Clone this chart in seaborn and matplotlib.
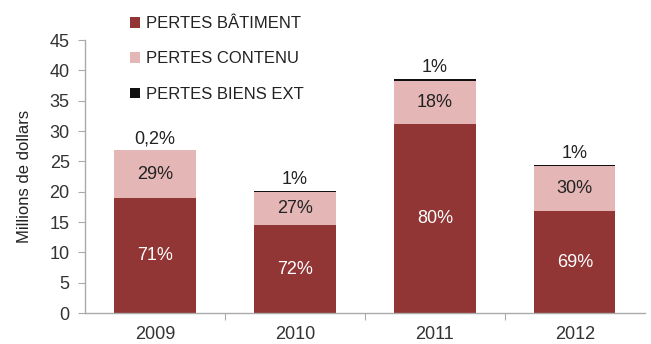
import matplotlib
matplotlib.use("Agg")
import matplotlib.pyplot as plt
from matplotlib.patches import Patch
import numpy as np
import pandas as pd
import seaborn as sns

# Loss amounts, millions of dollars
years = ["2009", "2010", "2011", "2012"]
batiment = [19.0, 14.5, 31.1, 16.8]
contenu = [7.8, 5.45, 7.1, 7.35]
biens_ext = [0.06, 0.2, 0.45, 0.25]

lbl_batiment = ["71%", "72%", "80%", "69%"]
lbl_contenu = ["29%", "27%", "18%", "30%"]
lbl_ext = ["0,2%", "1%", "1%", "1%"]

series_names = ["PERTES BÂTIMENT", "PERTES CONTENU", "PERTES BIENS EXT"]
colors = ["#923535", "#E5B6B6", "#111111"]

sns.set_theme(style="white")
plt.rcParams["font.family"] = ["Liberation Sans", "DejaVu Sans"]

df = pd.DataFrame({"annee": years, "bat": batiment, "cont": contenu, "ext": biens_ext})
bottom_cont = df["bat"].to_numpy()
bottom_ext = bottom_cont + df["cont"].to_numpy()
totals = bottom_ext + df["ext"].to_numpy()

fig = plt.figure(figsize=(6.51, 3.44), dpi=100)
ax = fig.add_axes([0.1306, 0.0901, 0.860, 0.7936])

bw = 0.58
sns.barplot(data=df, x="annee", y="bat", color=colors[0], width=bw, ax=ax,
            saturation=1, linewidth=0)
sns.barplot(data=df, x="annee", y="cont", color=colors[1], width=bw, ax=ax,
            saturation=1, linewidth=0, bottom=bottom_cont)
sns.barplot(data=df, x="annee", y="ext", color=colors[2], width=bw, ax=ax,
            saturation=1, linewidth=0, bottom=bottom_ext)

fs = 12
fs_val = 13
for i in range(len(years)):
    ax.text(i, batiment[i] / 2, lbl_batiment[i], ha="center", va="center",
            color="white", fontsize=fs_val)
    ax.text(i, bottom_cont[i] + contenu[i] / 2, lbl_contenu[i], ha="center",
            va="center", color="#222222", fontsize=fs_val)
    ax.text(i, totals[i] + 0.45, lbl_ext[i], ha="center", va="bottom",
            color="#222222", fontsize=fs_val)

ax.set_xlim(-0.5, 3.5)
ax.set_ylim(0, 45)
ax.set_yticks(np.arange(0, 46, 5))
ax.set_xlabel("")
ax.set_ylabel("Millions de dollars", fontsize=fs, color="#222222", labelpad=13)

sns.despine(ax=ax, top=True, right=True)
for s in ["left", "bottom"]:
    ax.spines[s].set_color("#AAAAAA")
    ax.spines[s].set_linewidth(1.0)

ax.tick_params(axis="y", which="major", left=True, length=5, width=0.8,
               color="#AAAAAA", labelsize=13, labelcolor="#333333", pad=6)
ax.tick_params(axis="x", which="major", bottom=False, labelsize=13,
               labelcolor="#333333", pad=3)
ax.set_xticks([0.5, 1.5, 2.5], minor=True)
ax.tick_params(axis="x", which="minor", bottom=True, length=5, width=0.8,
               color="#AAAAAA")

handles = [Patch(facecolor=c, edgecolor="none") for c in colors]
fig.legend(handles, series_names, loc="upper left",
           bbox_to_anchor=(0.182, 0.987), frameon=False, fontsize=fs,
           handlelength=0.6, handleheight=0.6, handletextpad=0.35,
           labelspacing=1.22, borderaxespad=0.3, labelcolor="#222222")

fig.savefig("out.png", dpi=100)
